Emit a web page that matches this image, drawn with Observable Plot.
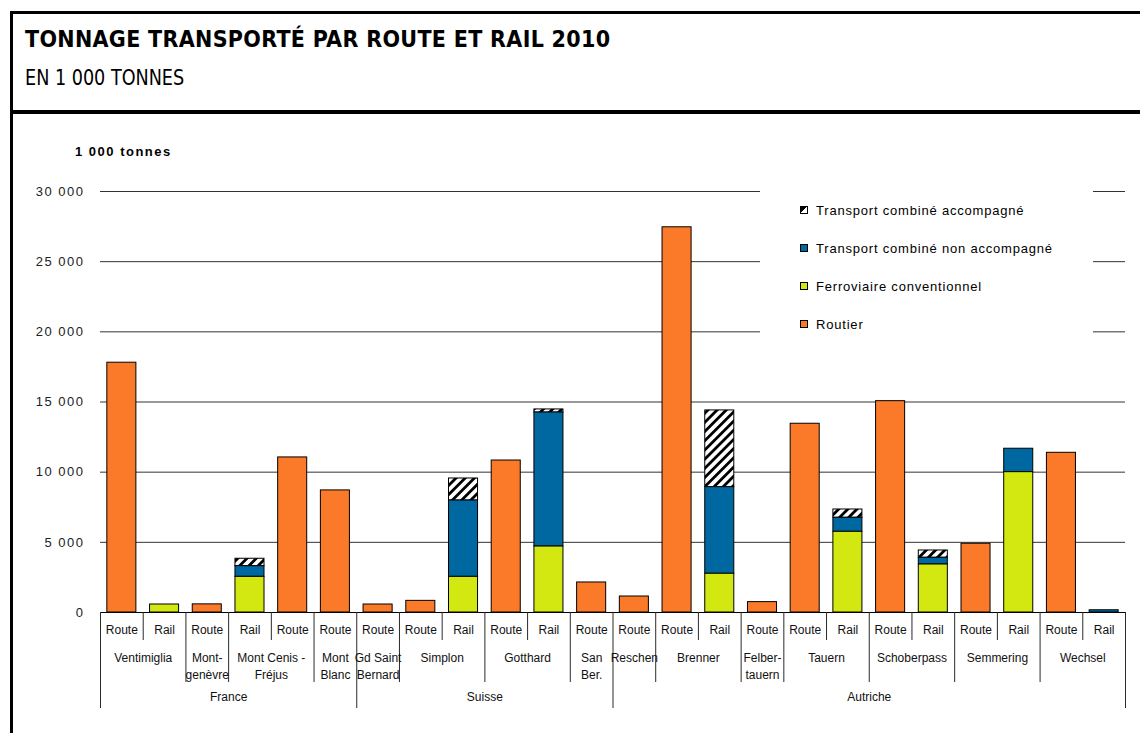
<!DOCTYPE html>
<html>
<head>
<meta charset="utf-8">
<script src="https://cdn.jsdelivr.net/npm/d3@7"></script>
<script src="https://cdn.jsdelivr.net/npm/@observablehq/plot@0.6"></script>
<style>
  html, body { margin: 0; padding: 0; background: #fff; }
  body { width: 1140px; height: 733px; overflow: hidden; position: relative; font-family: "Liberation Sans", Arial, sans-serif; }
  .bar { position: absolute; background: #000; z-index: 5; }
  #title { position: absolute; left: 25px; top: 28px; font-family: "DejaVu Sans Condensed", "DejaVu Sans", sans-serif; font-weight: bold; font-size: 23px; line-height: 23px; letter-spacing: 0.3px; color: #000; white-space: nowrap; }
  #subtitle { position: absolute; left: 25px; top: 67px; font-family: "DejaVu Sans Condensed", "DejaVu Sans", sans-serif; font-size: 22px; line-height: 22px; color: #000; white-space: nowrap; transform: scaleX(0.89); transform-origin: 0 0; }
  #unit { position: absolute; left: 75px; top: 144px; font-weight: bold; font-size: 13px; letter-spacing: 1.5px; line-height: 16px; z-index: 4; }
  #chart { position: absolute; left: 0; top: 114px; }
  #legend { position: absolute; left: 760px; top: 184px; width: 333px; height: 156px; background: #fff; z-index: 4; }
  .item { position: absolute; left: 40px; height: 16px; font-size: 13px; letter-spacing: 0.8px; line-height: 16px; white-space: nowrap; }
  .sw { display: inline-block; width: 6px; height: 6px; border: 1px solid #000; margin-right: 8px; vertical-align: 1px; }
</style>
</head>
<body>
<div class="bar" style="left:10px;top:11px;width:3px;height:722px"></div>
<div class="bar" style="left:10px;top:11px;width:1130px;height:3px"></div>
<div class="bar" style="left:10px;top:110px;width:1130px;height:4px"></div>
<div id="title">TONNAGE TRANSPORTÉ PAR ROUTE ET RAIL 2010</div>
<div id="subtitle">EN 1 000 TONNES</div>
<div id="unit">1 000 tonnes</div>
<div id="chart"></div>
<div id="legend"></div>
<script>
// ---------- data ----------
const categories = ["Route","Rail","Route","Rail","Route","Route","Route","Route","Rail","Route","Rail","Route","Route","Route","Rail","Route","Route","Rail","Route","Rail","Route","Rail","Route","Rail"];
const passes = ["Ventimiglia","Ventimiglia","Mont-\ngenèvre","Mont Cenis -\nFréjus","Mont Cenis -\nFréjus","Mont\nBlanc","Gd Saint\nBernard","Simplon","Simplon","Gotthard","Gotthard","San\nBer.","Reschen","Brenner","Brenner","Felber-\ntauern","Tauern","Tauern","Schoberpass","Schoberpass","Semmering","Semmering","Wechsel","Wechsel"];
const countries = ["France","France","France","France","France","France","Suisse","Suisse","Suisse","Suisse","Suisse","Suisse","Autriche","Autriche","Autriche","Autriche","Autriche","Autriche","Autriche","Autriche","Autriche","Autriche","Autriche","Autriche"];
const routier     = [17800,0,580,0,11050,8700,570,830,0,10830,0,2140,1140,27450,0,740,13450,0,15060,0,4900,0,11380,0];
const ferroviaire = [0,570,0,2540,0,0,0,0,2540,0,4700,0,0,0,2760,0,0,5750,0,3420,0,10000,0,0];
const tcna        = [0,0,0,760,0,0,0,0,5440,0,9550,0,0,0,6170,0,0,1000,0,480,0,1670,0,160];
const tca         = [0,0,0,530,0,0,0,0,1570,0,220,0,0,0,5470,0,0,590,0,520,0,0,0,0];
const seriesNames = ["Transport combiné accompagné","Transport combiné non accompagné","Ferroviaire conventionnel","Routier"];
const seriesColors = ["url(#hatch)","#0068a0","#d3e810","#fb7a29"];
const swatchCss = ["linear-gradient(to bottom right,#000 50%,#fff 50%)","#0068a0","#d3e810","#fb7a29"];
const yTicks = [0,5000,10000,15000,20000,25000,30000];

// ---------- build ----------
const ids = categories.map((c, i) => i + "|" + passes[i] + "|" + c);
const seriesValues = [tca, tcna, ferroviaire, routier];
const rows = [];
ids.forEach((id, i) => {
  seriesNames.forEach((s, k) => { if (seriesValues[k][i] > 0) rows.push({id, type: s, value: seriesValues[k][i]}); });
});

const width = 1140, height = 619, mL = 100, mR = 15, mT = 77, mB = 121;
const step = (width - mL - mR) / ids.length;
const frameH = height - mT - mB;

function runs(arr) {
  const out = [];
  let s = 0;
  for (let i = 1; i <= arr.length; i++) {
    if (i === arr.length || arr[i] !== arr[i - 1] || countries[i] !== countries[i - 1]) {
      out.push({label: arr[s], start: s, n: i - s});
      s = i;
    }
  }
  return out;
}
const passRuns = runs(passes), countryRuns = runs(countries);
function centerPos(r) {
  return r.n % 2 ? {id: ids[r.start + (r.n - 1) / 2], even: false, label: r.label}
                 : {id: ids[r.start + r.n / 2], even: true, label: r.label};
}
const passPos = passRuns.map(centerPos), countryPos = countryRuns.map(centerPos);

// separators: level per left boundary of each category
const bounds = ids.map((id, i) => {
  let level = 1;
  if (i === 0 || countries[i] !== countries[i - 1]) level = 3;
  else if (passes[i] !== passes[i - 1]) level = 2;
  return {id, level};
});
const lens = {1: 28, 2: 70, 3: 96};
const sepStroke = "#2a2a2a";

const fmt = d => d3.format(",")(d).replace(/,/g, " ");

const marks = [
  Plot.gridY(yTicks, {stroke: "#000", strokeOpacity: 0.8}),
  Plot.axisY(yTicks, {tickSize: 0, tickPadding: 16, tickFormat: fmt, fontSize: 13, fill: "#222", label: null}),
  Plot.barY(rows, Plot.stackY({x: "id", y: "value", fill: "type", stroke: "#000", strokeWidth: 1,
    order: ["Ferroviaire conventionnel","Transport combiné non accompagné","Transport combiné accompagné","Routier"]})),
  Plot.ruleY([0], {stroke: "#000"}),
  ...[1, 2, 3].map(l => Plot.ruleX(bounds.filter(b => b.level === l), {x: "id", dx: -step / 2, insetTop: frameH, insetBottom: -lens[l], stroke: sepStroke})),
  Plot.ruleX([ids[ids.length - 1]], {dx: step / 2, insetTop: frameH, insetBottom: -lens[3], stroke: sepStroke}),
  Plot.text(ids, {x: d => d, text: (d, i) => categories[i], frameAnchor: "bottom", dy: 21, fontSize: 12, fill: "#111"}),
  Plot.text(passPos.filter(p => !p.even), {x: "id", text: "label", frameAnchor: "bottom", lineAnchor: "top", dy: 37, lineHeight: 1.42, fontSize: 12, fill: "#111"}),
  Plot.text(passPos.filter(p => p.even), {x: "id", text: "label", frameAnchor: "bottom", lineAnchor: "top", dx: -step / 2, dy: 37, lineHeight: 1.42, fontSize: 12, fill: "#111"}),
  Plot.text(countryPos.filter(p => p.even), {x: "id", text: "label", frameAnchor: "bottom", dx: -step / 2, dy: 88, fontSize: 12, fill: "#111"}),
  Plot.text(countryPos.filter(p => !p.even), {x: "id", text: "label", frameAnchor: "bottom", dy: 88, fontSize: 12, fill: "#111"})
];

const chart = Plot.plot({
  width, height,
  marginLeft: mL, marginRight: mR, marginTop: mT, marginBottom: mB,
  style: {fontFamily: "'Liberation Sans', Arial, sans-serif", fontSize: "12px", background: "transparent", overflow: "visible"},
  x: {domain: ids, paddingInner: 0.32, paddingOuter: 0.16, round: false, axis: null},
  y: {domain: [0, 30000], axis: null},
  color: {domain: seriesNames, range: seriesColors},
  marks
});

// hatch pattern
const defs = d3.select(chart).insert("defs", ":first-child");
const pat = defs.append("pattern").attr("id", "hatch").attr("patternUnits", "userSpaceOnUse")
  .attr("width", 6.5).attr("height", 6.5).attr("patternTransform", "rotate(45)");
pat.append("rect").attr("width", 6.5).attr("height", 6.5).attr("fill", "#fff");
pat.append("rect").attr("width", 2.8).attr("height", 6.5).attr("fill", "#000");

d3.select(chart).selectAll('g[aria-label="y-axis tick label"] text').style("letter-spacing", "1.5px");
document.getElementById("chart").appendChild(chart);

// legend
const legend = document.getElementById("legend");
const legendTops = [19, 57, 95, 133];
seriesNames.forEach((s, k) => {
  const d = document.createElement("div");
  d.className = "item";
  d.style.top = legendTops[k] + "px";
  const sw = document.createElement("span");
  sw.className = "sw";
  sw.style.background = swatchCss[k];
  d.appendChild(sw);
  d.appendChild(document.createTextNode(s));
  legend.appendChild(d);
});
</script>
</body>
</html>
